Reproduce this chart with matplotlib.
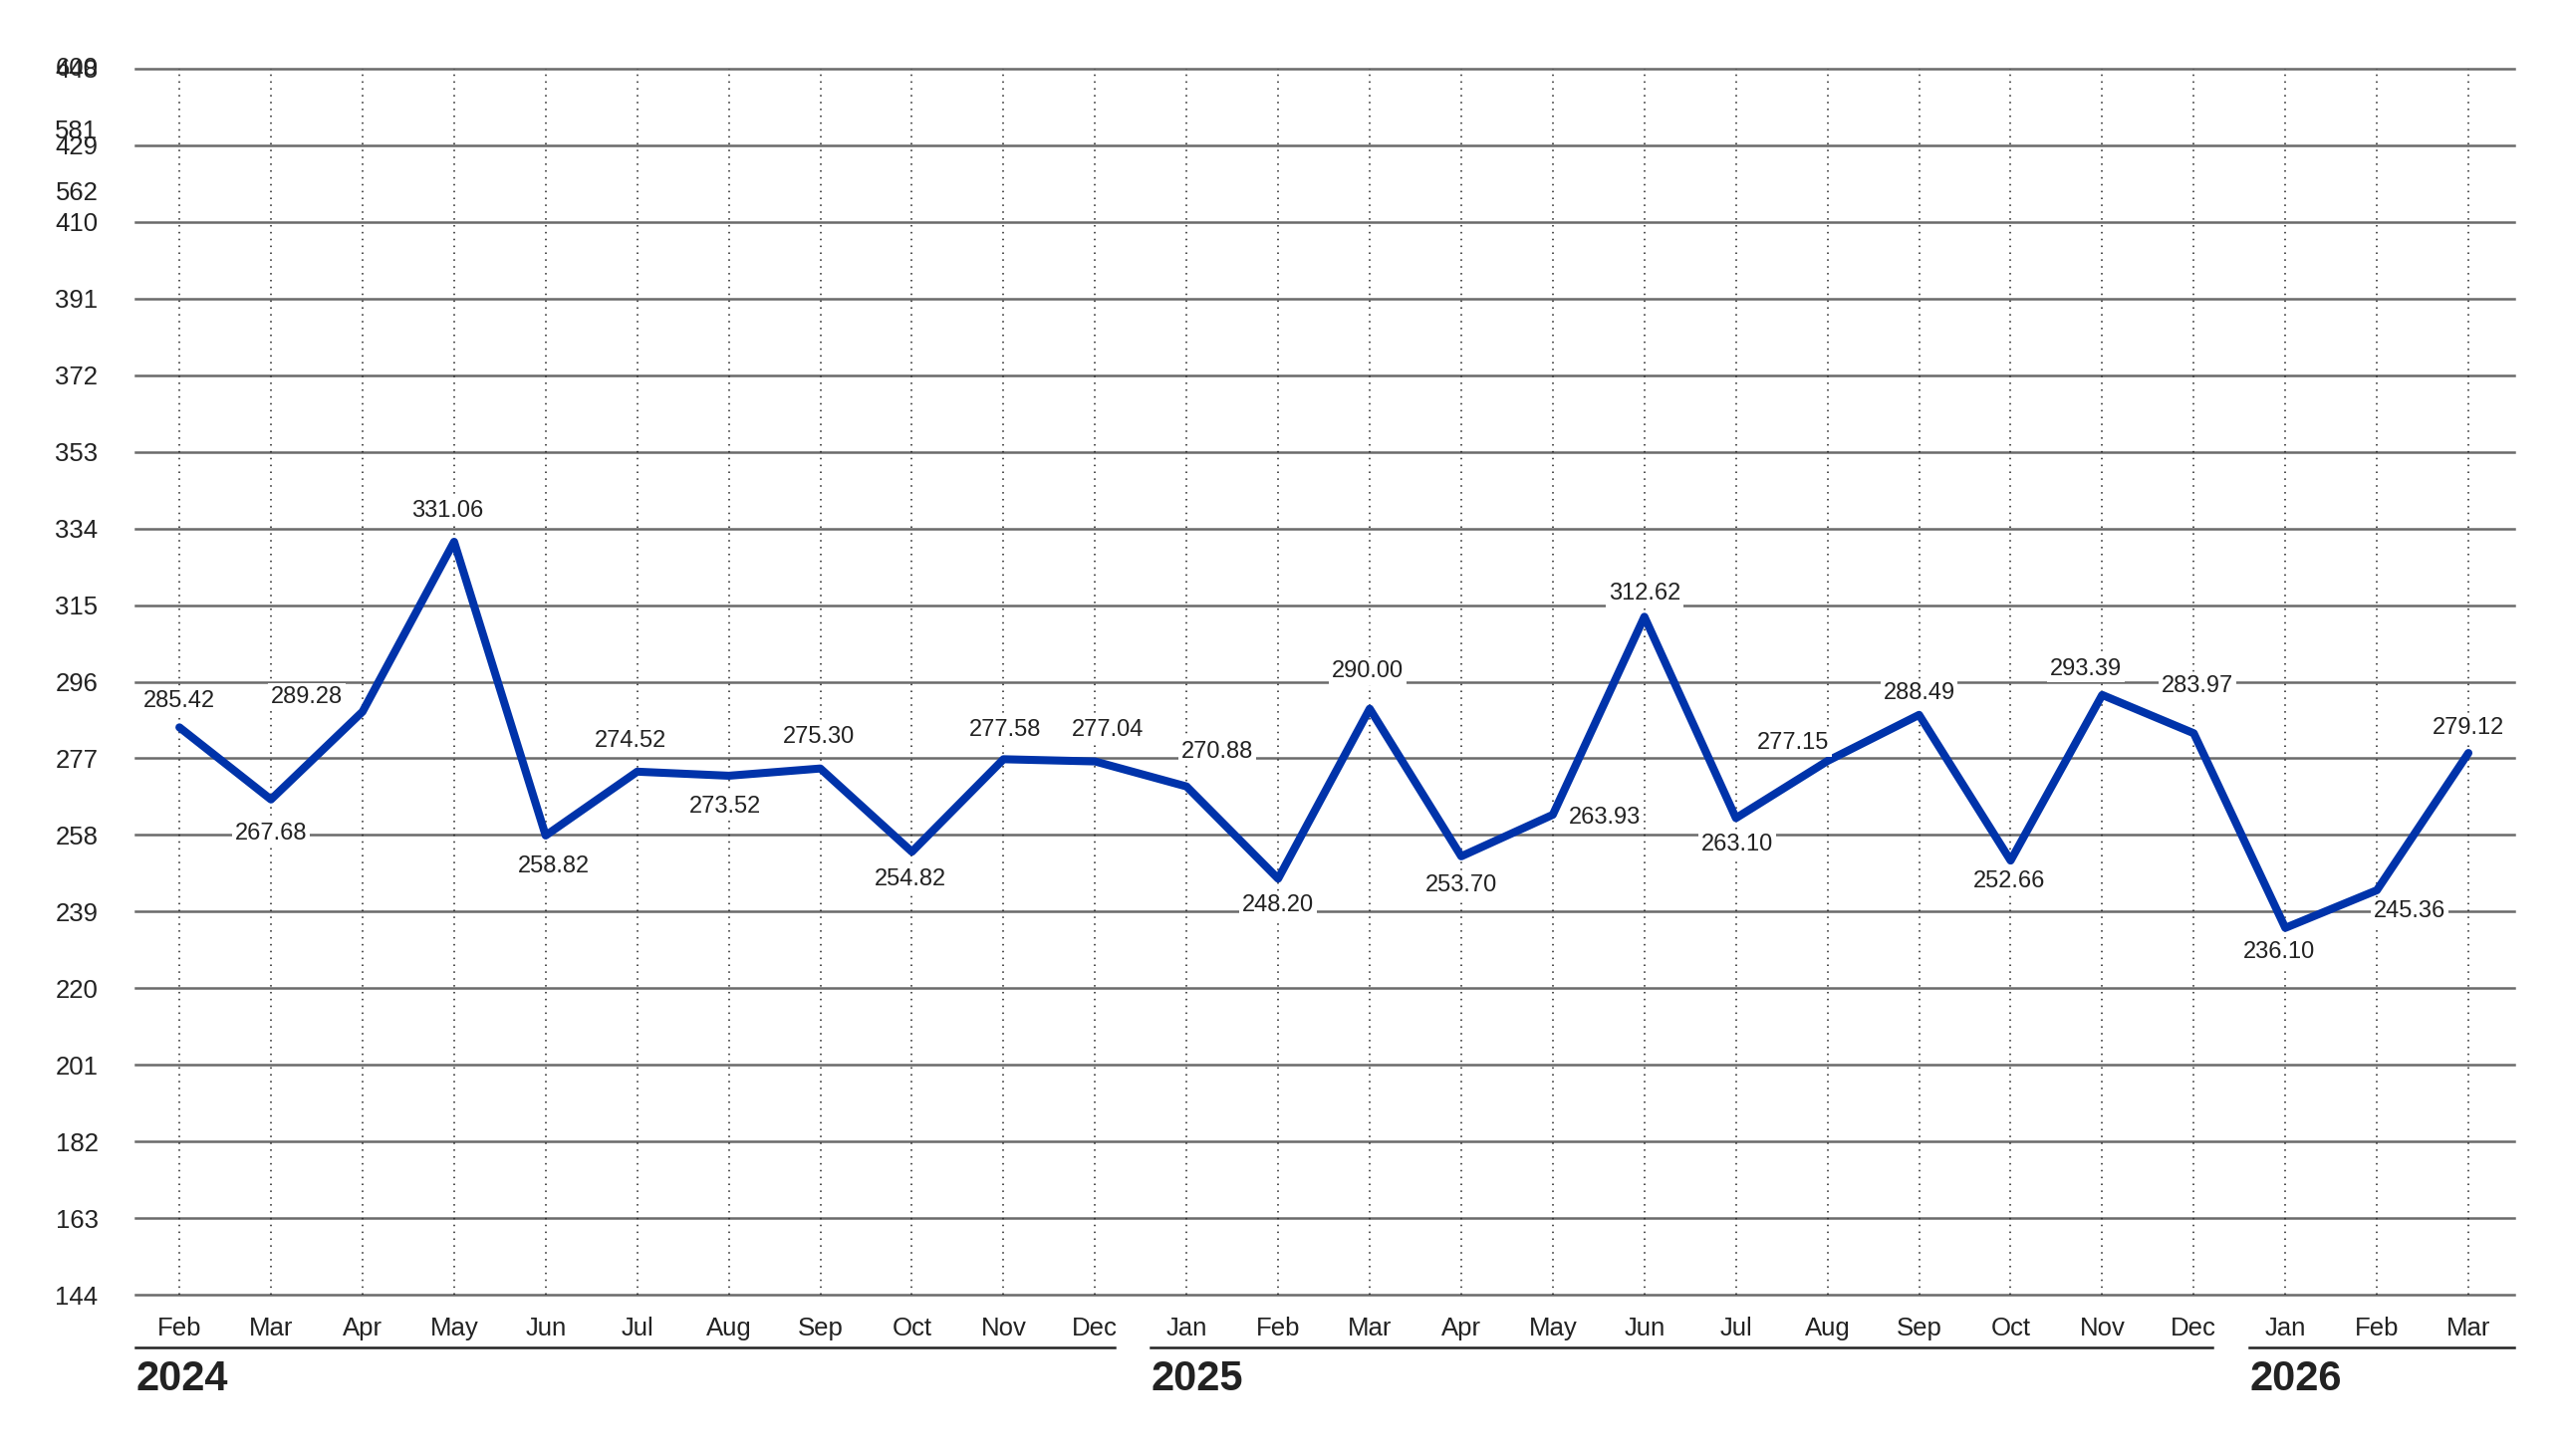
import matplotlib
matplotlib.use("Agg")
import matplotlib.pyplot as plt
import matplotlib.transforms as mtransforms
import numpy as np

plt.rcParams['font.family'] = ['Liberation Sans', 'DejaVu Sans']

# datos
meses = ["Feb", "Mar", "Apr", "May", "Jun", "Jul", "Aug", "Sep", "Oct", "Nov", "Dec",
         "Jan", "Feb", "Mar", "Apr", "May", "Jun", "Jul", "Aug", "Sep", "Oct", "Nov", "Dec",
         "Jan", "Feb", "Mar"]
valores = [285.42, 267.68, 289.28, 331.06, 258.82, 274.52, 273.52, 275.30, 254.82, 277.58, 277.04,
           270.88, 248.20, 290.00, 253.70, 263.93, 312.62, 263.10, 277.15, 288.49, 252.66, 293.39, 283.97,
           236.10, 245.36, 279.12]
anios = ["2024", "2025", "2026"]
yticks_lab = [str(t) for t in range(144, 449, 19)]
# etiquetas fantasma que se superponen arriba
yticks_extra = ["600", "581", "562"]

# la escala real del original no cae justo en los numeros redondeados
y_min, y_max = 145.9, 447.4
yticks = np.linspace(y_min, y_max, len(yticks_lab))
paso = yticks[1] - yticks[0]
yticks_extra_pos = [y_max, y_max - 0.82 * paso, y_max - 1.63 * paso]

# desplazamiento de cada etiqueta (en pixeles de la imagen reducida)
offsets = [(0, 16), (0, -21), (-34, 9), (-4, 19), (5, -19), (-4, 19), (-2, -19), (-1, 19), (-1, -17),
           (1, 18), (8, 19), (19, 21), (0, -16), (-1, 23), (0, -18), (32, -2), (0, 14), (1, -16),
           (-21, 11), (0, 13), (-1, -13), (-10, 16), (2, 29), (-4, -15), (20, -13), (0, 15)]

fig = plt.figure(figsize=(25.77, 14.62), dpi=100)
ax = fig.add_axes([136 / 2577, 1 - 1300 / 1462, (2524 - 136) / 2577, (1300 - 69) / 1462])

x = np.arange(len(valores))
ax.set_xlim(-0.48, len(valores) - 0.5)
ax.set_ylim(y_min, y_max)

for s in ax.spines.values():
    s.set_visible(False)

for yv in yticks:
    ax.axhline(yv, color='#6a6a6a', lw=1.8, zorder=1, clip_on=False)
for xv in x:
    ax.plot([xv, xv], [y_min, y_max], color='#222222', lw=1.1, ls=(0, (1, 3.5)), zorder=1)

ax.plot(x, valores, color='#0033aa', lw=5.8, zorder=3, solid_joinstyle='round',
        solid_capstyle='round')

k = 2577 / 1568 * 0.72
for i, v in enumerate(valores):
    dx, dy = offsets[i]
    ax.annotate(f"{v:.2f}", (x[i], v), xytext=(dx * k, dy * k), textcoords='offset points',
                ha='center', va='center', fontsize=17, color='#222222', zorder=4,
                bbox=dict(facecolor='white', edgecolor='none', pad=2))

ax.set_yticks(yticks)
ax.set_yticklabels(yticks_lab)
ax.set_xticks(x)
ax.set_xticklabels(meses)
ax.tick_params(axis='y', length=0, pad=27, labelsize=18.5, labelcolor='#222222')
ax.tick_params(axis='x', length=0, pad=15.5, labelsize=18.5, labelcolor='#222222')

tr_y = mtransforms.offset_copy(ax.get_yaxis_transform(), fig=fig, x=-27, y=0, units='points')
for lab, pos in zip(yticks_extra, yticks_extra_pos):
    ax.text(0, pos, lab, transform=tr_y, ha='right', va='center', fontsize=18.5, color='#222222')

# lineas y rotulos de cada anio
tr_x = ax.get_xaxis_transform()
fines = [10.21, 22.2, len(valores) - 0.5]
comienzos = [-0.48, 10.61, 22.61]
for anio, a, b in zip(anios, comienzos, fines):
    ax.plot([a, b], [-0.0427, -0.0427], transform=tr_x, color='#222222', lw=1.8, clip_on=False)
    ax.text(a, -0.069, anio, transform=tr_x, ha='left', va='center', fontsize=30,
            fontweight='bold', color='#222222')

fig.savefig("out.png", dpi=100)
